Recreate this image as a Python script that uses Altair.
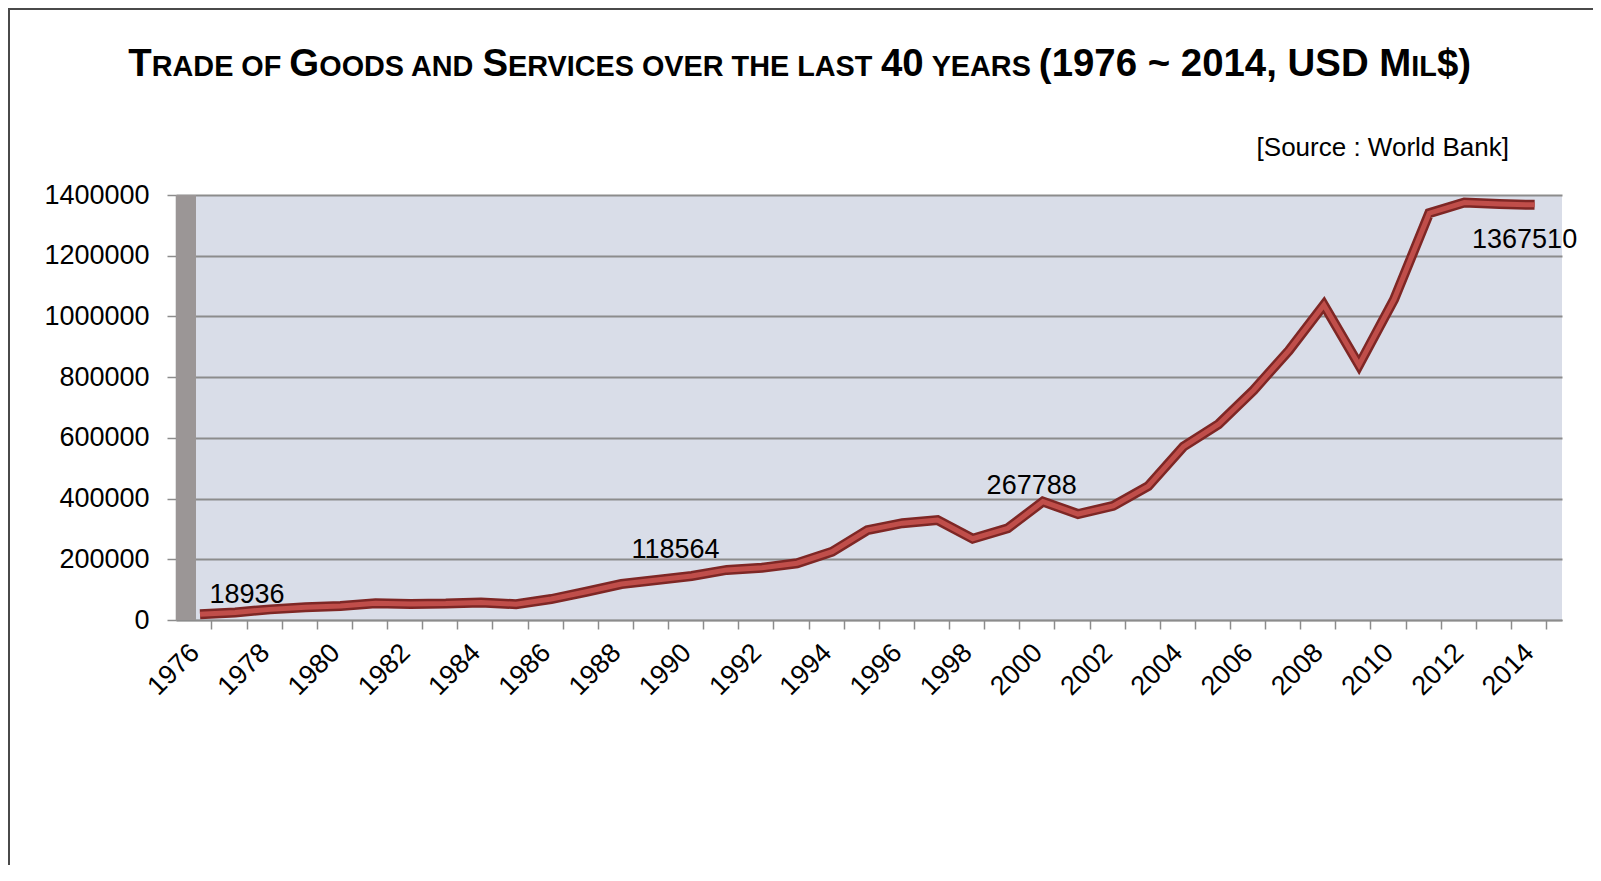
import altair as alt
import pandas as pd

# ---------------- data ----------------
years = list(range(1976, 2015))
trade = [18936, 25000, 35000, 42000, 46000, 55000, 53000, 54000, 58000, 52000,
         69000, 93000, 118564, 132000, 145000, 165000, 172000, 187000, 225000, 296000,
         319000, 329000, 267788, 302000, 390000, 349000, 376000, 441000, 571000, 645000,
         757000, 887000, 1038000, 840000, 1056000, 1340000, 1375000, 1370000, 1367510]
y_ticks = [0, 200000, 400000, 600000, 800000, 1000000, 1200000, 1400000]
label_years = [1976, 1988, 1998, 2014]

title_segments = [("T", True), ("RADE OF ", False), ("G", True), ("OODS AND ", False),
                  ("S", True), ("ERVICES OVER THE LAST ", False), ("40", True),
                  (" YEARS ", False), ("(1976 ~ 2014, USD M", True), ("IL", False),
                  ("$)", True)]
source_text = "[Source : World Bank]"

df = pd.DataFrame({"year": years, "value": trade})

# ---------------- layout ----------------
W, H = 1386, 425
PAD = {"left": 168, "top": 187, "right": 31, "bottom": 245}
FONT = "Liberation Sans"
GRID = "#8C8C8C"

x_enc = alt.X("year:Q",
              scale=alt.Scale(domain=[1975.317, 2014.78], nice=False, zero=False),
              axis=alt.Axis(values=years, format="d",
                            labelExpr="datum.value % 2 == 0 ? datum.label : ''",
                            grid=False, tickOffset=11.5, labelOffset=-26,
                            labelAngle=-45, labelAlign="right", labelBaseline="top",
                            labelPadding=10, labelFont=FONT, labelFontSize=27,
                            labelColor="black", labelOverlap=False, labelFlush=False,
                            tickSize=9, tickColor=GRID, tickWidth=1.5,
                            domainColor=GRID, domainWidth=1.5, title=None))
y_enc = alt.Y("value:Q",
              scale=alt.Scale(domain=[0, 1400000], nice=False),
              axis=alt.Axis(values=y_ticks, format="d", grid=True, gridColor=GRID,
                            gridWidth=2, domainColor=GRID, domainWidth=1.5,
                            tickColor=GRID, tickSize=9, tickWidth=1.5,
                            labelFont=FONT, labelFontSize=27, labelColor="black",
                            labelPadding=18, labelFlush=False, title=None))

base = alt.Chart(df).encode(x=x_enc, y=y_enc)

one = pd.DataFrame({"k": [0]})

wall = alt.Chart(one).mark_rect(color="#9B9696").encode(
    x=alt.value(0), x2=alt.value(20), y=alt.value(0), y2=alt.value(H))

line_outer = base.mark_line(color="#7E2725", strokeWidth=10, strokeJoin="miter")
line_inner = base.mark_line(color="#C04E4A", strokeWidth=5, strokeJoin="miter")

label_offsets = {1976: (47, -11), 1988: (54, -26), 1998: (59, -45), 2014: (-10, 43)}
label_layers = []
for yr in label_years:
    dx, dy = label_offsets[yr]
    label_layers.append(
        base.transform_filter(alt.datum.year == yr)
        .mark_text(font=FONT, fontSize=27, color="black", align="center",
                   baseline="alphabetic", dx=dx, dy=dy)
        .encode(text=alt.Text("value:Q", format="d")))

# title in small caps (Liberation Sans Bold metrics)
adv = {" ": .278, "$": .556, "(": .333, ")": .333, ",": .278, "~": .584,
       "A": .722, "C": .722, "D": .722, "E": .667, "F": .611, "G": .778, "H": .722,
       "I": .278, "L": .611, "M": .833, "N": .722, "O": .778, "R": .722, "S": .667,
       "T": .611, "U": .722, "V": .667, "Y": .667}
for d in "0123456789":
    adv[d] = .556
BIG, SMALL = 38.4, 28.8
title_layers = []
cx = -47.7
for txt, big in title_segments:
    fs = BIG if big else SMALL
    shown = txt.strip()
    lead = (len(txt) - len(txt.lstrip())) * adv[" "] * fs
    title_layers.append(
        alt.Chart(one).mark_text(text=shown, font=FONT, fontSize=fs, fontWeight="bold",
                                 color="black", align="left", baseline="alphabetic")
        .encode(x=alt.value(cx + lead), y=alt.value(-119.5)))
    cx += sum(adv[c] for c in txt) * fs

source = alt.Chart(one).mark_text(text=source_text, font=FONT, fontSize=26,
                                  color="black", align="right",
                                  baseline="alphabetic").encode(
    x=alt.value(1333), y=alt.value(-39))

border_left = alt.Chart(one).mark_rule(color="#4A4A4A", strokeWidth=2).encode(
    x=alt.value(-167), y=alt.value(-187), y2=alt.value(H + PAD["bottom"]))
border_top = alt.Chart(one).mark_rule(color="#4A4A4A", strokeWidth=2).encode(
    x=alt.value(-168), x2=alt.value(W + PAD["right"]), y=alt.value(-186))

chart = alt.layer(
    wall, line_outer, line_inner, *label_layers, *title_layers, source,
    border_left, border_top
).properties(
    width=W, height=H,
    autosize=alt.AutoSizeParams(type="none"),
    padding=PAD,
    background="white",
).configure_view(stroke=None, fill="#D9DDE8")

chart.save("out.html", embed_options={"renderer": "svg", "actions": False})
